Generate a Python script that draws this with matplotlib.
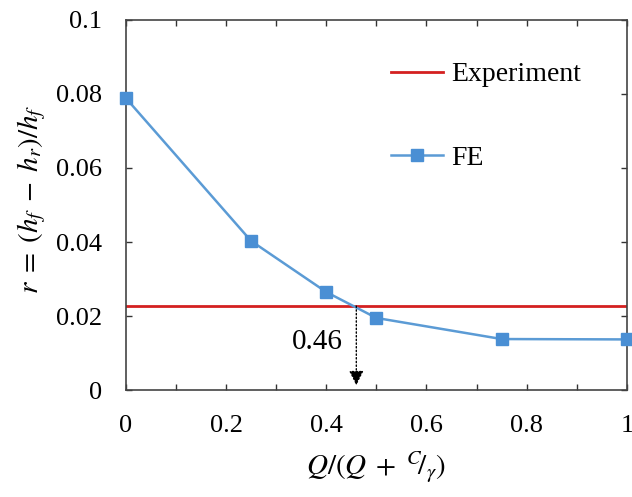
import matplotlib.pyplot as plt
from matplotlib.ticker import MultipleLocator

# dados
x_fe = [0, 0.25, 0.4, 0.5, 0.75, 1.0]
r_fe = [0.0789, 0.0403, 0.0265, 0.0195, 0.0138, 0.0137]
r_exp = 0.0227
x_cross = 0.46

plt.rcParams['font.family'] = ['Liberation Serif', 'DejaVu Serif']
plt.rcParams['mathtext.fontset'] = 'stix'
plt.rcParams['font.size'] = 19

fig = plt.figure(figsize=(6.32, 4.97), dpi=100)
ax = fig.add_axes([0.199, 0.215, 0.793, 0.745])

ax.axhline(r_exp, color='#D42020', lw=2, label='Experiment', zorder=2)
ax.plot(x_fe, r_fe, color='#5B9BD5', lw=1.8, marker='s', ms=8.5,
        mfc='#4A8FD4', mec='#4A8FD4', label='FE', zorder=3, clip_on=False)

# seta pontilhada em 0.46
ax.annotate('', xy=(x_cross, 0.0013), xytext=(x_cross, r_exp),
            arrowprops=dict(arrowstyle='-|>', ls=':', color='black', lw=1,
                            mutation_scale=22, shrinkA=0, shrinkB=0))
ax.text(x_cross - 0.027, 0.0131, '0.46', ha='right', va='center', fontsize=21)

ax.set_xlim(0, 1)
ax.set_ylim(0, 0.1)
ax.set_xticks([0, 0.2, 0.4, 0.6, 0.8, 1.0])
ax.set_xticklabels(['0', '0.2', '0.4', '0.6', '0.8', '1'])
ax.xaxis.set_minor_locator(MultipleLocator(0.1))
ax.set_yticks([0, 0.02, 0.04, 0.06, 0.08, 0.1])
ax.set_yticklabels(['0', '0.02', '0.04', '0.06', '0.08', '0.1'])
ax.tick_params(which='both', direction='in', top=True, right=True,
               length=4, width=1, color='#333333')
ax.tick_params(axis='x', which='major', pad=18)
ax.tick_params(axis='y', which='major', pad=17)
for s in ax.spines.values():
    s.set_color('#444444')
    s.set_linewidth(1.2)

ax.set_xlabel(r'$Q/(Q\;+\;{}^{C}\!/_{\gamma})$', fontsize=21)
ax.set_ylabel(r'$r\;=\;(h_f\;-\;h_r)/h_f$', fontsize=21)
ax.xaxis.set_label_coords(0.5, -0.16)
ax.yaxis.set_label_coords(-0.155, 0.515)

ax.legend(loc='upper left', bbox_to_anchor=(0.48, 0.954), frameon=False,
          handlelength=1.85, handletextpad=0.3, labelspacing=2.1, fontsize=20)

plt.savefig('out.png', dpi=100)
